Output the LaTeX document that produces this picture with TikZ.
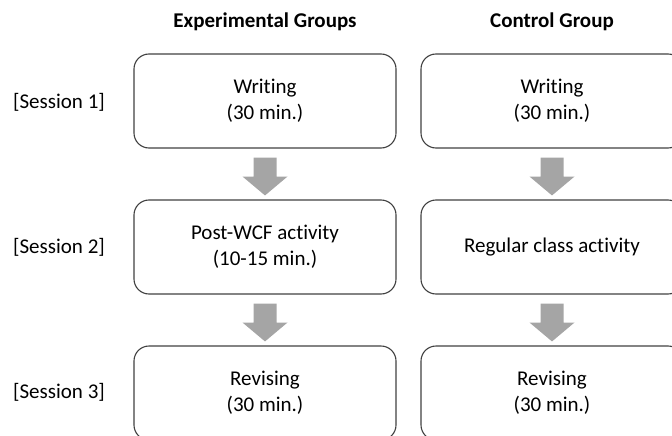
\documentclass[tikz,border=0pt]{standalone}
\usepackage{fontspec}
\setmainfont{Carlito}[Ligatures=NoCommon]
\usetikzlibrary{calc}
\definecolor{boxline}{RGB}{64,64,64}
\definecolor{flowgray}{RGB}{165,165,165}

\begin{document}
\begin{tikzpicture}[x=1pt,y=-1pt,line join=round,
  stage/.style={draw=boxline,line width=1.1pt,rounded corners=15pt,
    minimum width=262pt,minimum height=94pt,align=center,
    font=\fontsize{21}{26}\selectfont},
  sess/.style={font=\fontsize{21}{25}\selectfont},
  head/.style={font=\bfseries\fontsize{21}{25}\selectfont}]
  \clip (0,0) rectangle (672,436);
  % column heads
  \node[head] (hexp) at (265,22) {Experimental Groups};
  \node[head] (hcon) at (552,22) {Control Group};
  % session labels
  \node[sess] (s1) at (59,102) {[Session 1]};
  \node[sess] (s2) at (59,247) {[Session 2]};
  \node[sess] (s3) at (59,392) {[Session 3]};
  % boxes
  \node[stage] (e1) at (265,101) {Writing\\(30 min.)};
  \node[stage] (e2) at (265,247) {Post-WCF activity\\(10-15 min.)};
  \node[stage] (e3) at (265,393) {Revising\\(30 min.)};
  \node[stage] (c1) at (552,101) {Writing\\(30 min.)};
  \node[stage] (c2) at (552,247) {Regular class activity};
  \node[stage] (c3) at (552,393) {Revising\\(30 min.)};
  % block arrows
  \foreach \a/\b in {e1/e2,e2/e3,c1/c2,c2/c3}
    \fill[flowgray] ($(\a.south)+(-11.5,9)$) -- ++(23,0) -- ++(0,19) -- ++(11,0)
      -- ($(\b.north)+(0,-4)$) -- ($(\a.south)+(-22.5,28)$) -- ++(11,0) -- cycle;
\end{tikzpicture}
\end{document}
